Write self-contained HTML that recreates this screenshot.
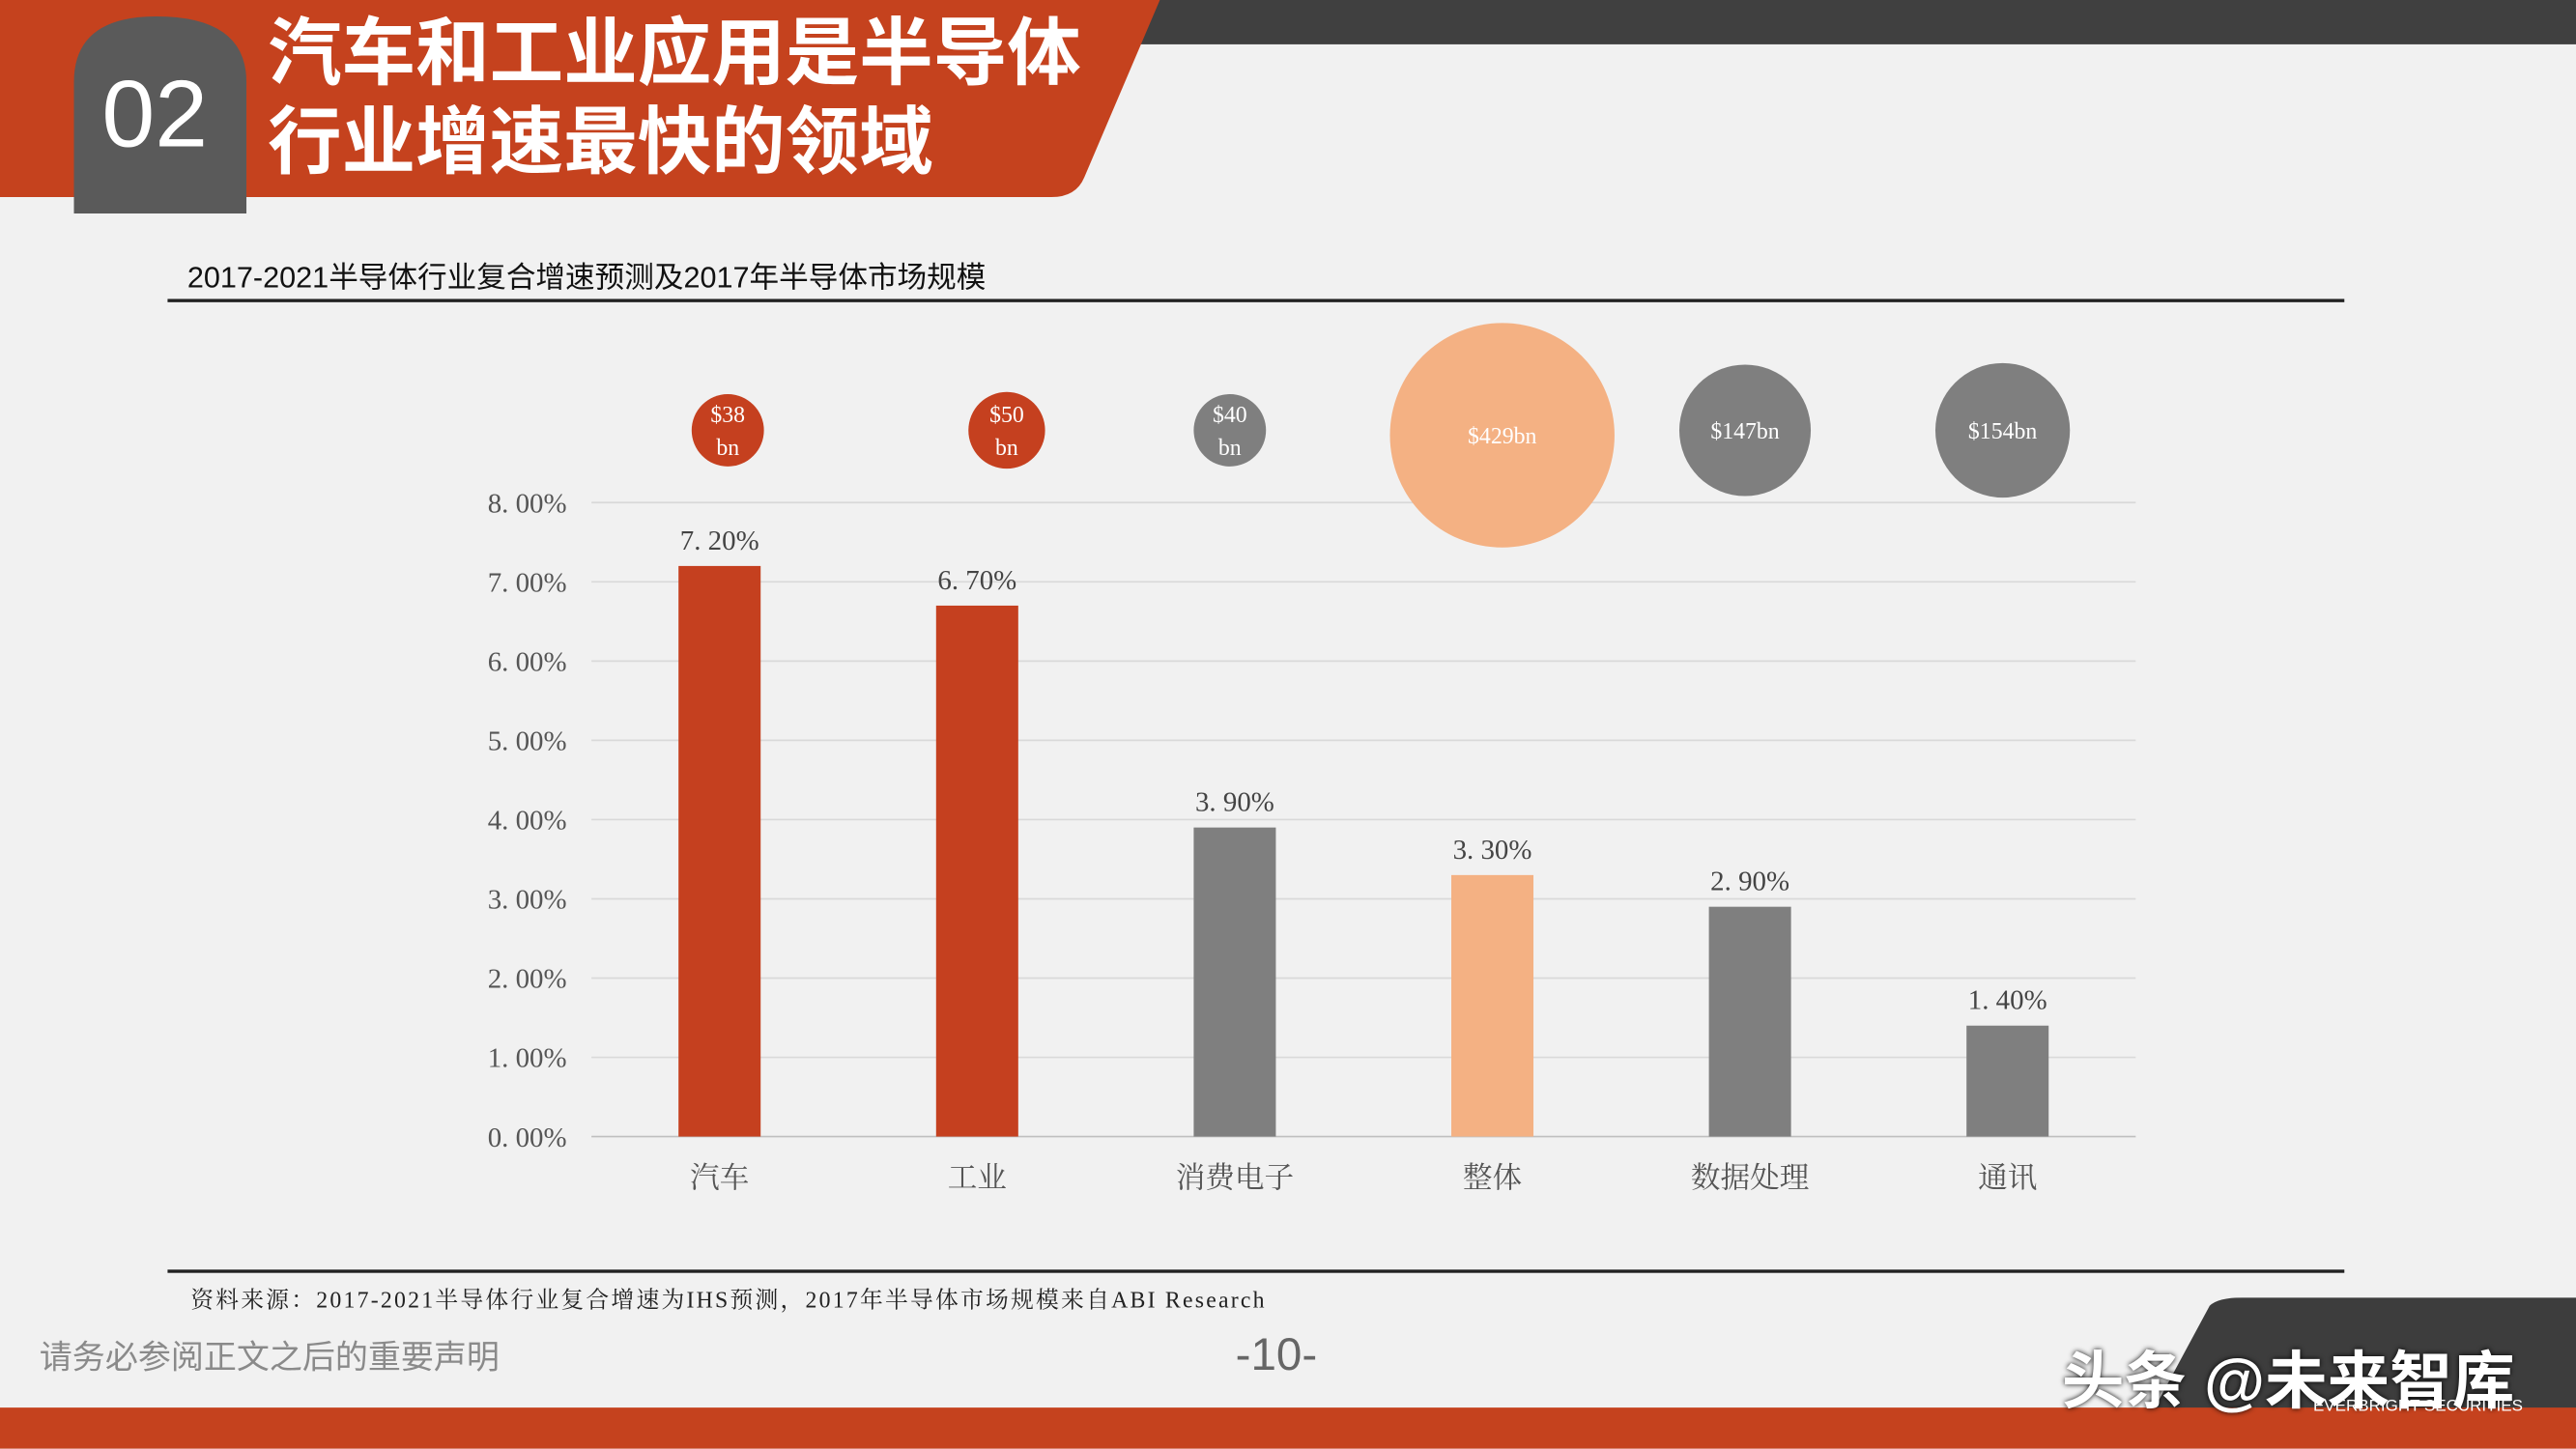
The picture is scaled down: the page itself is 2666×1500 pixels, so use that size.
<!DOCTYPE html>
<html><head><meta charset="utf-8">
<style>
html,body{margin:0;padding:0;width:2666px;height:1500px;overflow:hidden;background:#f0f0f0}
#s{position:absolute;left:0;top:0;width:1568px;height:882px;transform:scale(1.70026);transform-origin:0 0;background:#f1f1f1;font-family:"Liberation Sans","Noto Sans CJK SC",sans-serif}
.a{position:absolute}
</style></head><body>
<div id="s">
<div class="a" style="left:680px;top:0;width:888px;height:27px;background:#404040"></div>
<svg class="a" style="left:0;top:0" width="720" height="140">
<path d="M0 0 H706 L660 108 Q655 120 640 120 H0 Z" fill="#c5421e"/>
<path d="M45 130 V50 Q45 10 95 10 Q150 10 150 50 V130 Z" fill="#5a5a5a"/>
</svg>
<div class="a" style="left:62px;top:36px;font-size:58px;color:#fff;font-weight:400">02</div>
<div class="a" style="left:163px;top:6px;font-size:45px;line-height:54px;color:#fff;font-weight:700">汽车和工业应用是半导体<br>行业增速最快的领域</div>
<div class="a" style="left:114px;top:155px;font-size:18px;color:#111">2017-2021半导体行业复合增速预测及2017年半导体市场规模</div>
<div class="a" style="left:102px;top:182px;width:1325px;height:2px;background:#222"></div>
<svg id="chart" class="a" style="left:0;top:0" width="1568" height="882"></svg>
<div class="a" style="left:102px;top:773px;width:1325px;height:2px;background:#222"></div>
<div class="a" style="left:116px;top:781px;font-size:14px;letter-spacing:1.3px;color:#222;font-family:'Liberation Serif','Noto Serif CJK SC',serif">资料来源：2017-2021半导体行业复合增速为IHS预测，2017年半导体市场规模来自ABI Research</div>
<div class="a" style="left:24px;top:810px;font-size:20px;color:#8a8a8a">请务必参阅正文之后的重要声明</div>
<div class="a" style="left:752px;top:809px;font-size:28px;color:#666">-10-</div>
<svg class="a" style="left:1290px;top:790px" width="278" height="70"><path d="M55 5 Q60 0 75 0 H278 V70 H20 Z" fill="#3d3d3d"/></svg>
<div class="a" style="left:0;top:857px;width:1568px;height:25px;background:#c5421e"></div>
<div class="a" style="left:1255px;top:810px;font-size:38px;color:#fff;font-weight:700;text-shadow:0 0 3px #000">头条 @未来智库</div>
<div class="a" style="left:1408px;top:851px;font-size:10px;color:#fff">EVERBRIGHT SECURITIES</div>
</div>
<script>
const categories=["汽车","工业","消费电子","整体","数据处理","通讯"];
const growth=[7.2,6.7,3.9,3.3,2.9,1.4];
const marketSize=[38,50,40,429,147,154];
const bubbleLabels=["$38<br>bn","$50<br>bn","$40<br>bn","$429bn","$147bn","$154bn"];
const yTicks=[0,1,2,3,4,5,6,7,8];
const colorKey=["r","r","g","p","g","g"];
const C={r:"#c5401f",g:"#7f7f7f",p:"#f4b183"};
const svg=document.getElementById('chart');const NS="http://www.w3.org/2000/svg";
const y=v=>692-v*48.25, x=i=>438+i*156.8;
const rad=v=>Math.max(22,Math.sqrt(v)*3.3);
function mk(t,a){const e=document.createElementNS(NS,t);for(const k in a)e.setAttribute(k,a[k]);svg.appendChild(e);return e;}
const serif="'Liberation Serif','Noto Serif CJK SC',serif";
yTicks.forEach(t=>{
 const l=mk('line',{x1:360,x2:1300,y1:y(t),y2:y(t),stroke:t?"#d9d9d9":"#bfbfbf","stroke-width":1});
 
 
 const tx=mk('text',{x:345,y:y(t)+6,"text-anchor":"end","font-size":17,fill:"#555","font-family":serif});
 tx.textContent=t.toFixed(2).replace('.','. ')+'%';
 
 
});
categories.forEach((c,i)=>{
 const b=mk('rect',{x:x(i)-25,y:y(growth[i]),width:50,height:growth[i]*48.25,fill:C[colorKey[i]]});
 
 
 const v=mk('text',{x:x(i),y:y(growth[i])-10,"text-anchor":"middle","font-size":17,fill:"#444","font-family":serif});
 v.textContent=growth[i].toFixed(2).replace('.','. ')+'%';
 
 
 const xl=mk('text',{x:x(i),y:723,"text-anchor":"middle","font-size":18,fill:"#555","font-family":serif});
 xl.textContent=c;
 
 
 const r=rad(marketSize[i]);
 const bx=x(i)+(i==0?5:i==1?18:i==3?6:i==4?-3:-3);
 const ci=mk('circle',{cx:bx,cy:i==3?265:262,r:r,fill:C[colorKey[i]]});
 
 
 const parts=bubbleLabels[i].split('<br>');
 parts.forEach((p,k)=>{
  const t=mk('text',{x:bx,y:(i==3?265:262)+5+(parts.length>1?(k?10:-10):0),"text-anchor":"middle","font-size":14,fill:"#fff","font-family":serif});
  t.textContent=p;
  
  
 });
});
</script>
</body></html>
